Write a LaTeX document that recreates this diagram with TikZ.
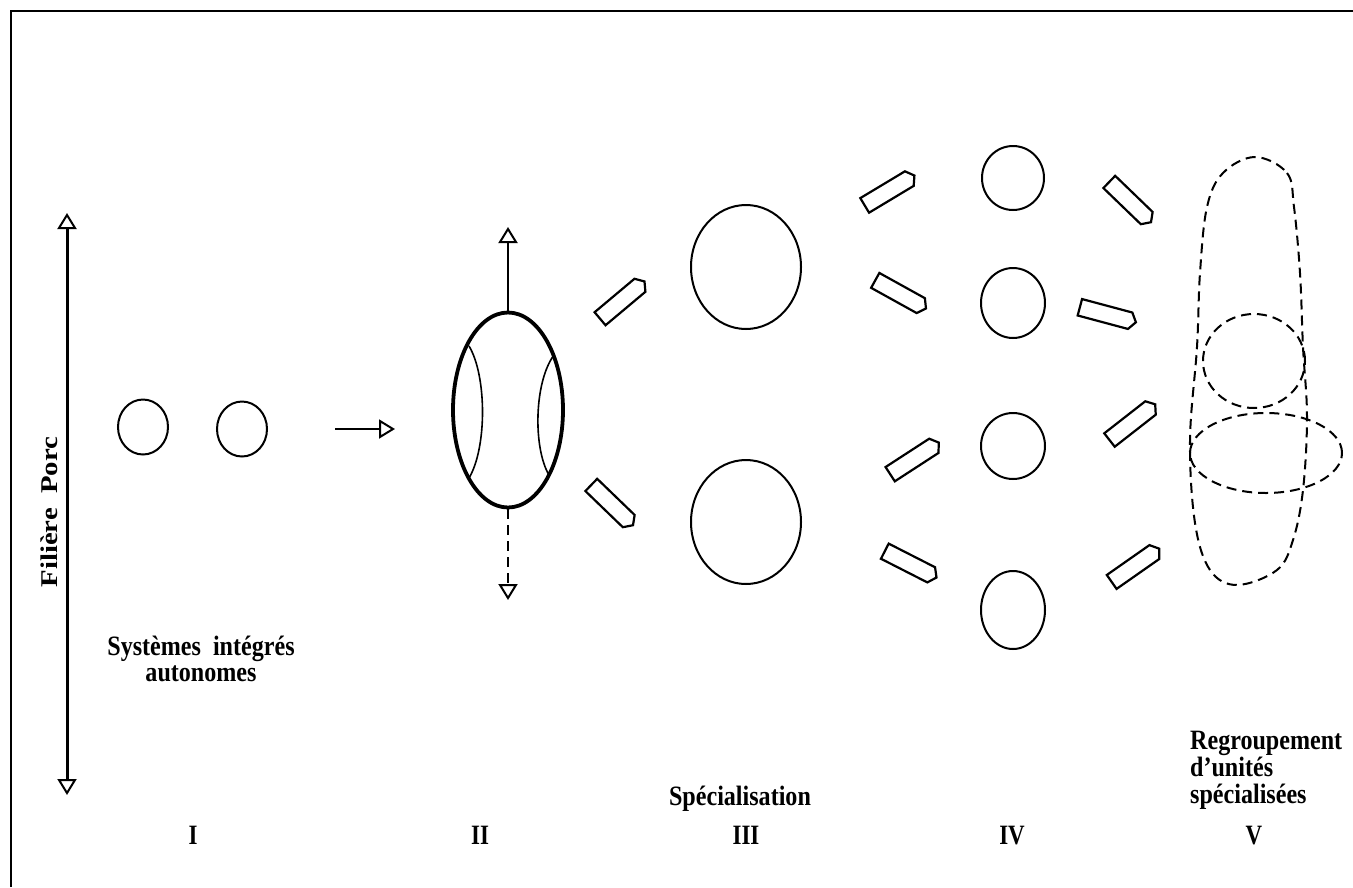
\documentclass[tikz,border=0pt]{standalone}
\usepackage{fontspec}
\setmainfont{Liberation Serif}
\usetikzlibrary{arrows.meta,shapes.geometric,shapes.arrows}

\tikzset{
  frameline/.style={line width=2.5pt},
  openhead/.style={-{Triangle[open,length=16pt,width=19pt,line width=2pt]}},
  twohead/.style={{Triangle[open,length=16pt,width=19pt,line width=2pt]}-{Triangle[open,length=16pt,width=19pt,line width=2pt]}},
  unit/.style={draw,ellipse,line width=2pt,inner sep=0pt},
  dashunit/.style={draw,ellipse,line width=2pt,inner sep=0pt,dash pattern=on 10pt off 6pt},
  blockarrow/.style={draw,single arrow,line width=2.2pt,inner sep=0pt,
    minimum height=58pt,minimum width=17pt,
    single arrow head extend=0pt,single arrow tip angle=110},
  lbl/.style={font=\bfseries\fontsize{28}{28}\selectfont,inner sep=0pt,xscale=0.86},
  numeral/.style={font=\bfseries\fontsize{28}{28}\selectfont,inner sep=0pt,xscale=0.82,anchor=base}
}

\begin{document}
\begin{tikzpicture}[x=1pt,y=-1pt]
\useasboundingbox (0,0) rectangle (1353,887);

% outer frame (top and left edges)
\draw[frameline] (11,887) -- (11,11) -- (1353,11);

% vertical axis of the chain
\coordinate (axtop) at (67,213);
\coordinate (axbot) at (67,795);
\draw[twohead,line width=3pt] (axtop) -- (axbot);
\node[font=\bfseries\fontsize{24}{24}\selectfont,inner sep=0pt,rotate=90] (axis) at (49,512)
  {\scalebox{1.2}[1]{Filière\ \ Porc}};

% stage I: two autonomous units
\node[unit,minimum width=50pt,minimum height=55pt] (i1) at (143,427) {};
\node[unit,minimum width=50pt,minimum height=55pt] (i2) at (242,429) {};
\coordinate (ia) at (335,429);
\coordinate (ib) at (395,429);
\draw[openhead,line width=2.5pt] (ia) -- (ib);

% stage II: integrated unit
\node[draw,ellipse,line width=3.8pt,inner sep=0pt,minimum width=110pt,minimum height=195pt] (ii) at (508,410) {};
\draw[line width=1.6pt] (469,346) .. controls (487,376) and (487,448) .. (469,478);
\draw[line width=1.6pt] (554,355) .. controls (534,382) and (533,448) .. (549,475);
\coordinate (iiup) at (508,227);
\coordinate (iidown) at (508,600);
\draw[openhead,line width=2pt] (ii.north) -- (iiup);
\draw[openhead,line width=2pt,dash pattern=on 10pt off 6pt] (ii.south) -- (iidown);

% block arrows II -> III
\node[blockarrow,rotate=40] (b1) at (620,302) {};
\node[blockarrow,rotate=-44] (b2) at (610,503) {};

% stage III: specialised units
\node[unit,minimum width=110pt,minimum height=124pt] (iii1) at (746,267) {};
\node[unit,minimum width=110pt,minimum height=124pt] (iii2) at (746,522) {};

% block arrows III -> IV
\node[blockarrow,rotate=31] (b3) at (887,192) {};
\node[blockarrow,rotate=-29] (b4) at (898,293) {};
\node[blockarrow,rotate=33] (b5) at (912,460) {};
\node[blockarrow,rotate=-27] (b6) at (908,563) {};

% stage IV: four units
\node[unit,minimum width=62pt,minimum height=64pt] (iv1) at (1013,178) {};
\node[unit,minimum width=64pt,minimum height=70pt] (iv2) at (1013,303) {};
\node[unit,minimum width=64pt,minimum height=66pt] (iv3) at (1013,446) {};
\node[unit,minimum width=64pt,minimum height=78pt] (iv4) at (1013,610) {};

% block arrows IV -> V
\node[blockarrow,rotate=-44] (b7) at (1128,200) {};
\node[blockarrow,rotate=-15] (b8) at (1105,314) {};
\node[blockarrow,rotate=38] (b9) at (1130,424) {};
\node[blockarrow,rotate=35] (b10) at (1133,567) {};

% stage V: grouping of specialised units
\draw[line width=2pt,dash pattern=on 10pt off 6pt] plot[smooth cycle,tension=0.6] coordinates {
  (1255,157) (1287,173) (1294,207) (1300,273) (1303,347) (1307,417) (1303,490)
  (1293,540) (1277,570) (1237,585) (1210,570) (1195,523) (1190,440) (1197,347)
  (1200,273) (1207,207) (1223,173)};
\node[dashunit,minimum width=102pt,minimum height=94pt] (v1) at (1254,361) {};
\node[dashunit,minimum width=152pt,minimum height=80pt] (v2) at (1266,453) {};

% captions
\node[lbl,anchor=base] (capIa) at (201,655) {Systèmes\ \ intégrés};
\node[lbl,anchor=base] (capIb) at (201,681) {autonomes};
\node[lbl,anchor=base] (capIII) at (740,805) {Spécialisation};
\node[lbl,anchor=base west] (capVa) at (1190,749) {Regroupement};
\node[lbl,anchor=base west] (capVb) at (1190,776) {d’unités};
\node[lbl,anchor=base west] (capVc) at (1190,803) {spécialisées};

% stage numerals
\node[numeral] (nI) at (193,844) {I};
\node[numeral] (nII) at (480,844) {II};
\node[numeral] (nIII) at (746,844) {III};
\node[numeral] (nIV) at (1012,844) {IV};
\node[numeral] (nV) at (1254,844) {V};
\end{tikzpicture}
\end{document}
